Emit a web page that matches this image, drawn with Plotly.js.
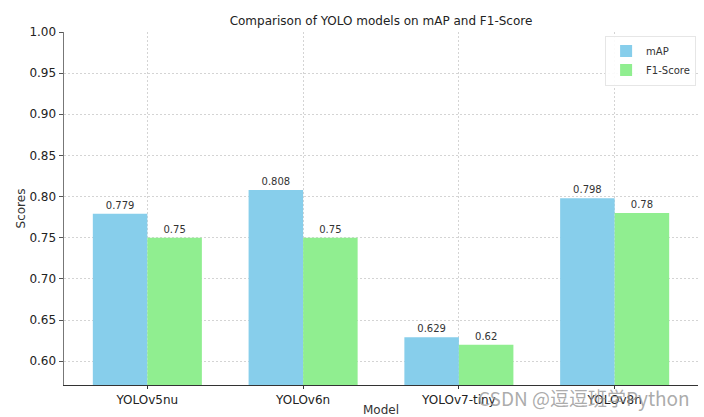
<!DOCTYPE html>
<html>
<head>
<meta charset="utf-8">
<script src="https://cdn.plot.ly/plotly-3.0.1.min.js"></script>
<style>html,body{margin:0;padding:0;background:#fff;}#chart{width:704px;height:417px;}</style>
</head>
<body>
<div id="chart"></div>
<script>
const models = ["YOLOv5nu", "YOLOv6n", "YOLOv7-tiny", "YOLOv8n"];
const mAP = [0.779, 0.808, 0.629, 0.798];
const f1 = [0.75, 0.75, 0.62, 0.78];
const yTicks = [0.60, 0.65, 0.70, 0.75, 0.80, 0.85, 0.90, 0.95, 1.00];

const font = "DejaVu Sans, sans-serif";
const traces = [
  {type: "bar", name: "mAP", x: models, y: mAP, marker: {color: "#87CEEB"},
   text: mAP.map(String), textposition: "outside", cliponaxis: false,
   textfont: {size: 10, color: "#333", family: font}, hoverinfo: "none"},
  {type: "bar", name: "F1-Score", x: models, y: f1, marker: {color: "#90EE90"},
   text: f1.map(String), textposition: "outside", cliponaxis: false,
   textfont: {size: 10, color: "#333", family: font}, hoverinfo: "none"}
];
const layout = {
  width: 704, height: 417,
  margin: {l: 64, r: 6, t: 32, b: 32},
  paper_bgcolor: "#fff", plot_bgcolor: "#fff",
  font: {family: font, color: "#222", size: 12},
  barmode: "group", bargap: 0.3, bargroupgap: 0,
  title: {text: "Comparison of YOLO models on mAP and F1-Score", font: {size: 12, color: "#222"}, x: 0.5, xref: "paper", y: 0.95, yanchor: "middle"},
  xaxis: {
    range: [-0.535, 3.535],
    showgrid: true, gridcolor: "#d4d4d4", griddash: "2px,2px", gridwidth: 1,
    showline: true, linecolor: "#333", linewidth: 1.2,
    ticks: "outside", ticklen: 3, tickcolor: "#333",
    tickfont: {size: 12, color: "#222"},
    title: {text: "Model", font: {size: 12, color: "#333"}, standoff: 2}
  },
  yaxis: {
    range: [0.571, 1.0],
    tickvals: yTicks, ticktext: yTicks.map(v => v.toFixed(2)),
    showgrid: true, gridcolor: "#d4d4d4", griddash: "2px,2px", gridwidth: 1,
    showline: true, linecolor: "#777", linewidth: 1.5,
    ticks: "outside", ticklen: 4, tickcolor: "#555",
    tickfont: {size: 12, color: "#222"},
    zeroline: false,
    title: {text: "Scores", font: {size: 12, color: "#333"}, standoff: 1}
  },
  legend: {x: 0.997, y: 0.99, xanchor: "right", yanchor: "top",
    bgcolor: "rgba(255,255,255,0.9)", bordercolor: "#e6e6e6", borderwidth: 1,
    font: {size: 10, color: "#333"}, tracegroupgap: 0, itemwidth: 30},
  annotations: [
    {text: "CSDN @逗逗班学Python", xref: "paper", yref: "paper", x: 0.99, y: -0.035,
     xanchor: "right", yanchor: "middle", showarrow: false,
     font: {size: 19, color: "rgba(150,150,150,0.8)", family: "Noto Sans CJK SC, sans-serif"}}
  ],
  showlegend: true
};
Plotly.newPlot("chart", traces, layout, {staticPlot: true});
</script>
</body>
</html>
